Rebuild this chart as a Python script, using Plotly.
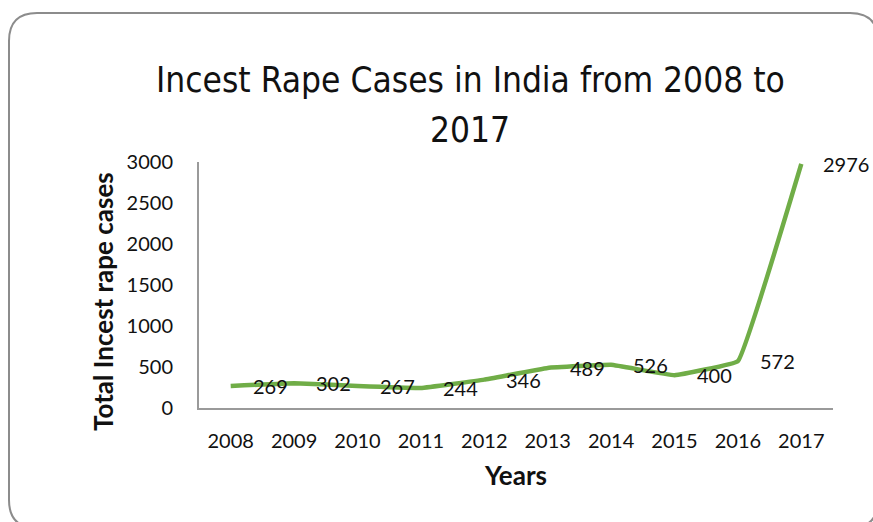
import plotly.graph_objects as go

years = ["2008", "2009", "2010", "2011", "2012", "2013", "2014", "2015", "2016", "2017"]
cases = [269, 302, 267, 244, 346, 489, 526, 400, 572, 2976]
y_ticks = [0, 500, 1000, 1500, 2000, 2500, 3000]
title_lines = ["Incest Rape Cases in India from 2008 to", "2017"]

W, H = 873, 522
L, R, T, B = 199, 40, 162, 114
PW, PH = W - L - R, H - T - B

def px(x):
    return (x - L) / PW

def py(y):
    return (H - B - y) / PH

LABEL_FONT = "Lato, Open Sans, sans-serif"

fig = go.Figure()
fig.add_trace(go.Scatter(
    x=years, y=cases, mode="lines",
    line=dict(color="#70AD47", width=4.5, shape="spline", smoothing=0.2),
    hoverinfo="x+y", showlegend=False,
))

annotations = []
for i, v in enumerate(cases):
    annotations.append(dict(
        x=i, y=v, xref="x", yref="y", text=str(v), showarrow=False,
        xanchor="left", yanchor="middle", xshift=20,
        font=dict(family=LABEL_FONT, size=20, color="#111111"),
    ))

# title lines
for line_text, cy in zip(title_lines, [80, 130]):
    annotations.append(dict(
        x=px(470), y=py(cy), xref="paper", yref="paper", text=line_text,
        showarrow=False, xanchor="center", yanchor="middle",
        font=dict(family="DejaVu Sans Condensed, sans-serif", size=35, color="#111111"),
    ))

# y-axis title
annotations.append(dict(
    x=px(103), y=py(302), xref="paper", yref="paper",
    text="<b>Total Incest rape cases</b>", textangle=-90, showarrow=False,
    xanchor="center", yanchor="middle",
    font=dict(family=LABEL_FONT, size=26, color="#111111"),
))

# rounded border
x0, y0, x1, y1, r = 9, 13, 878, 528, 28
path = (
    f"M {px(x0+r)},{py(y0)} L {px(x1-r)},{py(y0)} "
    f"Q {px(x1)},{py(y0)} {px(x1)},{py(y0+r)} "
    f"L {px(x1)},{py(y1-r)} Q {px(x1)},{py(y1)} {px(x1-r)},{py(y1)} "
    f"L {px(x0+r)},{py(y1)} Q {px(x0)},{py(y1)} {px(x0)},{py(y1-r)} "
    f"L {px(x0)},{py(y0+r)} Q {px(x0)},{py(y0)} {px(x0+r)},{py(y0)} Z"
)

fig.update_layout(
    width=W, height=H,
    margin=dict(l=L, r=R, t=T, b=B, pad=0),
    paper_bgcolor="white", plot_bgcolor="white",
    xaxis=dict(
        type="category",
        range=[-0.5, 9.5], showgrid=False, zeroline=False,
        showline=True, linecolor="#9a9a9a", linewidth=2,
        ticks="outside", ticklen=14, tickcolor="rgba(0,0,0,0)",
        tickfont=dict(family=LABEL_FONT, size=20, color="#111111"),
        title=dict(text="<b>Years</b>", standoff=16,
                   font=dict(family=LABEL_FONT, size=26, color="#111111")),
        fixedrange=True,
    ),
    yaxis=dict(
        range=[0, 3000], tickvals=y_ticks, showgrid=False, zeroline=False,
        showline=True, linecolor="#9a9a9a", linewidth=2,
        ticks="outside", ticklen=20, tickcolor="rgba(0,0,0,0)",
        tickfont=dict(family=LABEL_FONT, size=20, color="#111111"),
        fixedrange=True,
    ),
    annotations=annotations,
    shapes=[dict(type="path", path=path, xref="paper", yref="paper",
                 line=dict(color="#8c8c8c", width=2), layer="below")],
)

fig.write_html("out.html")
